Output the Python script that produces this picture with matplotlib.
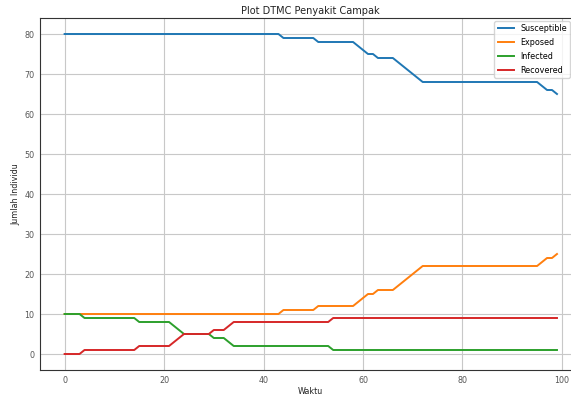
import matplotlib.pyplot as plt

# Hasil simulasi DTMC
waktu = list(range(100))

susceptible = [80, 80, 80, 80, 80, 80, 80, 80, 80, 80,
               80, 80, 80, 80, 80, 80, 80, 80, 80, 80,
               80, 80, 80, 80, 80, 80, 80, 80, 80, 80,
               80, 80, 80, 80, 80, 80, 80, 80, 80, 80,
               80, 80, 80, 80, 79, 79, 79, 79, 79, 79,
               79, 78, 78, 78, 78, 78, 78, 78, 78, 77,
               76, 75, 75, 74, 74, 74, 74, 73, 72, 71,
               70, 69, 68, 68, 68, 68, 68, 68, 68, 68,
               68, 68, 68, 68, 68, 68, 68, 68, 68, 68,
               68, 68, 68, 68, 68, 68, 67, 66, 66, 65]

exposed = [10, 10, 10, 10, 10, 10, 10, 10, 10, 10,
           10, 10, 10, 10, 10, 10, 10, 10, 10, 10,
           10, 10, 10, 10, 10, 10, 10, 10, 10, 10,
           10, 10, 10, 10, 10, 10, 10, 10, 10, 10,
           10, 10, 10, 10, 11, 11, 11, 11, 11, 11,
           11, 12, 12, 12, 12, 12, 12, 12, 12, 13,
           14, 15, 15, 16, 16, 16, 16, 17, 18, 19,
           20, 21, 22, 22, 22, 22, 22, 22, 22, 22,
           22, 22, 22, 22, 22, 22, 22, 22, 22, 22,
           22, 22, 22, 22, 22, 22, 23, 24, 24, 25]

infected = [10, 10, 10, 10, 9, 9, 9, 9, 9, 9,
            9, 9, 9, 9, 9, 8, 8, 8, 8, 8,
            8, 8, 7, 6, 5, 5, 5, 5, 5, 5,
            4, 4, 4, 3, 2, 2, 2, 2, 2, 2,
            2, 2, 2, 2, 2, 2, 2, 2, 2, 2,
            2, 2, 2, 2, 1, 1, 1, 1, 1, 1,
            1, 1, 1, 1, 1, 1, 1, 1, 1, 1,
            1, 1, 1, 1, 1, 1, 1, 1, 1, 1,
            1, 1, 1, 1, 1, 1, 1, 1, 1, 1,
            1, 1, 1, 1, 1, 1, 1, 1, 1, 1]

recovered = [0, 0, 0, 0, 1, 1, 1, 1, 1, 1,
             1, 1, 1, 1, 1, 2, 2, 2, 2, 2,
             2, 2, 3, 4, 5, 5, 5, 5, 5, 5,
             6, 6, 6, 7, 8, 8, 8, 8, 8, 8,
             8, 8, 8, 8, 8, 8, 8, 8, 8, 8,
             8, 8, 8, 8, 9, 9, 9, 9, 9, 9,
             9, 9, 9, 9, 9, 9, 9, 9, 9, 9,
             9, 9, 9, 9, 9, 9, 9, 9, 9, 9,
             9, 9, 9, 9, 9, 9, 9, 9, 9, 9,
             9, 9, 9, 9, 9, 9, 9, 9, 9, 9]

fig = plt.figure(figsize=(5.71, 3.97), dpi=100)
# the original picture is cropped on the right, so the axes runs past the edge
ax = fig.add_axes([40 / 571, 27 / 397, 541.6 / 571, 352 / 397])

ax.plot(waktu, susceptible, label='Susceptible', lw=1.4)
ax.plot(waktu, exposed, label='Exposed', lw=1.4)
ax.plot(waktu, infected, label='Infected', lw=1.4)
ax.plot(waktu, recovered, label='Recovered', lw=1.4)

ax.set_title('Plot DTMC Penyakit Campak', fontsize=7, pad=3, color='#222222')
ax.set_xlabel('Waktu', fontsize=5.8, labelpad=2, color='#222222')
ax.set_ylabel('Jumlah Individu', fontsize=5.8, labelpad=3, color='#222222')
ax.tick_params(labelsize=5.8, length=0, pad=4, labelcolor='#555555')
for s in ax.spines.values():
    s.set_color('#333333')
ax.grid(True, color='#c8c8c8', lw=0.8)

# keep the legend inside the picture (the original is clipped at the right edge)
ax.legend(loc='upper right', fontsize=5.8, labelspacing=0.6,
          bbox_to_anchor=(570 / 571, 1 - 21 / 397),
          bbox_transform=fig.transFigure, borderaxespad=0)

plt.savefig('out.png', dpi=100)
